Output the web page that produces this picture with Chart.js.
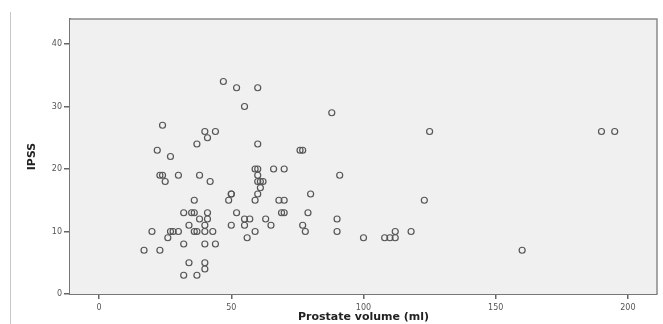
<!DOCTYPE html>
<html>
<head>
<meta charset="utf-8">
<script src="https://cdn.jsdelivr.net/npm/chart.js@4"></script>
<style>
  html, body { margin: 0; padding: 0; background: #fff; }
  #wrap { width: 663px; height: 324px; }
</style>
</head>
<body>
<div id="wrap"><canvas id="scatter" width="663" height="324"></canvas></div>
<script>
// prostate volume (ml) and IPSS, one entry per patient
const volume = [24, 40, 44, 41, 37, 22, 27, 23, 24, 30, 38, 25, 42, 36, 32, 35, 36, 41, 38, 41,
  34, 40, 20, 27, 28, 30, 36, 37, 40, 43, 26, 32, 40, 44, 17, 23, 34, 40, 40, 32,
  37, 47, 52, 60, 55, 88, 60, 76, 77, 59, 60, 66, 70, 60, 91, 60, 61, 62, 61, 50,
  50, 60, 80, 49, 59, 68, 70, 52, 69, 70, 79, 55, 57, 63, 90, 50, 55, 65, 77, 59,
  78, 90, 56, 100, 108, 110, 112, 112, 118, 123, 125, 160, 190, 195];
const ipss = [27, 26, 26, 25, 24, 23, 22, 19, 19, 19, 19, 18, 18, 15, 13, 13, 13, 13, 12, 12,
  11, 11, 10, 10, 10, 10, 10, 10, 10, 10, 9, 8, 8, 8, 7, 7, 5, 5, 4, 3,
  3, 34, 33, 33, 30, 29, 24, 23, 23, 20, 20, 20, 20, 19, 19, 18, 18, 18, 17, 16,
  16, 16, 16, 15, 15, 15, 15, 13, 13, 13, 13, 12, 12, 12, 12, 11, 11, 11, 11, 10,
  10, 10, 9, 9, 9, 9, 9, 10, 10, 15, 26, 7, 26, 26];
const xTicks = [0, 50, 100, 150, 200];
const yTicks = [0, 10, 20, 30, 40];

const points = volume.map((v, i) => ({ x: v, y: ipss[i] }));

// grey plot background, frame and the thin line at the left edge
const frame = {
  id: 'frame',
  beforeDatasetsDraw(chart) {
    const { ctx, chartArea: a } = chart;
    ctx.save();
    ctx.fillStyle = '#f0f0f0';
    ctx.fillRect(a.left, a.top, a.right - a.left, a.bottom - a.top);
    ctx.strokeStyle = '#8a8a8a';
    ctx.lineWidth = 1.5;
    ctx.beginPath();
    ctx.moveTo(a.left, a.top);
    ctx.lineTo(a.right, a.top);
    ctx.lineTo(a.right, a.bottom);
    ctx.stroke();
    ctx.strokeStyle = '#c8c8c8';
    ctx.lineWidth = 1;
    ctx.beginPath();
    ctx.moveTo(10.5, 12);
    ctx.lineTo(10.5, 324);
    ctx.stroke();
    ctx.restore();
  }
};

new Chart(document.getElementById('scatter'), {
  type: 'scatter',
  data: {
    datasets: [{
      data: points,
      pointRadius: 3,
      pointBorderWidth: 1.2,
      borderColor: '#555',
      backgroundColor: 'rgba(0,0,0,0)',
      pointHoverRadius: 3
    }]
  },
  options: {
    responsive: false,
    animation: false,
    layout: { padding: { top: 19, right: 6, left: 0, bottom: 0 } },
    plugins: { legend: { display: false }, tooltip: { enabled: false } },
    scales: {
      x: {
        type: 'linear',
        min: -11,
        max: 211,
        afterBuildTicks: s => { s.ticks = xTicks.map(v => ({ value: v })); },
        afterFit: s => { s.height = 30; },
        grid: { drawOnChartArea: false, tickLength: 5, color: '#666', lineWidth: 1.5 },
        border: { color: '#777', width: 2 },
        ticks: { color: '#555', font: { family: 'DejaVu Sans', size: 8 }, padding: 4, maxRotation: 0 },
        title: {
          display: true,
          text: 'Prostate volume (ml)',
          color: '#222',
          font: { family: 'DejaVu Sans', size: 11, weight: 'bold' },
          padding: { top: 0, bottom: 0 }
        }
      },
      y: {
        type: 'linear',
        min: 0,
        max: 44,
        afterBuildTicks: s => { s.ticks = yTicks.map(v => ({ value: v })); },
        afterFit: s => { s.width = 70; },
        grid: { drawOnChartArea: false, tickLength: 6, color: '#666', lineWidth: 1.5 },
        border: { color: '#777', width: 2 },
        ticks: { color: '#555', font: { family: 'DejaVu Sans', size: 8 }, padding: 2 },
        title: {
          display: true,
          text: 'IPSS',
          color: '#222',
          font: { family: 'DejaVu Sans', size: 11, weight: 'bold' },
          padding: { top: 26, bottom: 0 }
        }
      }
    }
  },
  plugins: [frame]
});
</script>
</body>
</html>
